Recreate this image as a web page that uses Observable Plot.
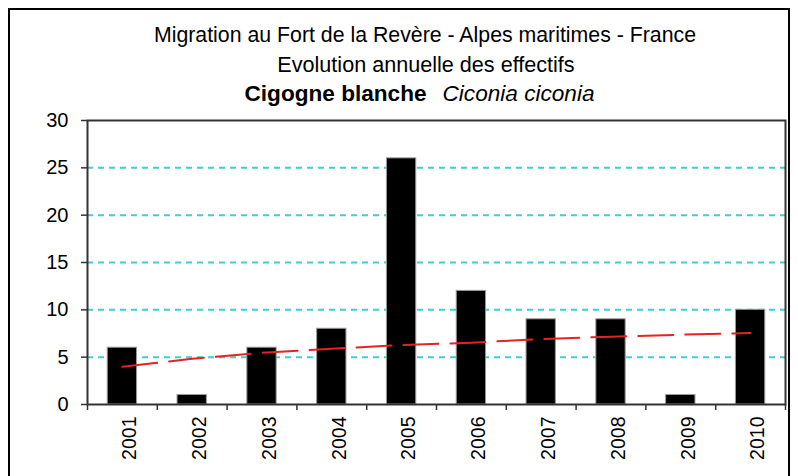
<!DOCTYPE html>
<html>
<head>
<meta charset="utf-8">
<script src="https://cdn.jsdelivr.net/npm/d3@7"></script>
<script src="https://cdn.jsdelivr.net/npm/@observablehq/plot@0.6"></script>
<style>
  html, body { margin: 0; padding: 0; background: #fff; }
  #wrap { position: relative; width: 798px; height: 476px; overflow: hidden; background: #fff;
          font-family: "Liberation Sans", Arial, sans-serif; color: #000; }
  #border { position: absolute; left: 8px; top: 8px; width: 778px; height: 600px; border: 2px solid #000; }
  .t { position: absolute; left: 0; text-align: center; white-space: pre; line-height: 1; }
  #chart { position: absolute; left: 0; top: 0; }
</style>
</head>
<body>
<div id="wrap">
  <div id="border"></div>
  <div id="chart"></div>
  <div class="t" style="top:25px;width:850px;font-size:21.3px;">Migration au Fort de la Revère - Alpes maritimes - France</div>
  <div class="t" style="top:54px;width:852px;font-size:21.6px;">Evolution annuelle des effectifs</div>
  <div class="t" style="top:83px;width:839px;font-size:22.6px;"><b>Cigogne blanche</b><span style="display:inline-block;width:16px"></span><i>Ciconia ciconia</i></div>
</div>
<script>
const years = [2001, 2002, 2003, 2004, 2005, 2006, 2007, 2008, 2009, 2010];
const counts = [6, 1, 6, 8, 26, 12, 9, 9, 1, 10];
const trend = [3.98, 4.83, 5.46, 5.89, 6.28, 6.52, 6.92, 7.16, 7.37, 7.55];
const yTicks = [0, 5, 10, 15, 20, 25, 30];
const gridValues = [5, 10, 15, 20, 25];

const data = years.map((y, i) => ({year: y, count: counts[i], trend: trend[i]}));
const boundaries = [...years.map(y => y - 0.5), years[years.length - 1] + 0.5];

const chart = Plot.plot({
  width: 798,
  height: 476,
  marginTop: 120,
  marginBottom: 72,
  marginLeft: 87,
  marginRight: 13,
  style: {background: "transparent", fontFamily: "'Liberation Sans', Arial, sans-serif", color: "#000"},
  x: {type: "linear", domain: [boundaries[0], boundaries[boundaries.length - 1]]},
  y: {domain: [0, 30]},
  marks: [
    Plot.ruleY(gridValues, {stroke: "#3fcfcf", strokeWidth: 2, strokeDasharray: "6,5"}),
    Plot.rectY(data, {x1: d => d.year - 0.21, x2: d => d.year + 0.21, y: "count", fill: "#000", stroke: "#9a9a9a", strokeWidth: 1}),
    Plot.line(data, {x: "year", y: "trend", stroke: "#e62222", strokeWidth: 2, strokeDasharray: "35,12"}),
    Plot.frame({stroke: "#333", strokeWidth: 2}),
    Plot.axisY({ticks: yTicks, tickSize: 6, tickPadding: 13, fontSize: 20, stroke: "#333", strokeWidth: 1.5, strokeOpacity: 1, label: null}),
    Plot.axisX({ticks: boundaries, tickSize: 6, tickFormat: () => "", stroke: "#333", strokeWidth: 1.5, strokeOpacity: 1, label: null}),
    Plot.axisX({ticks: years, tickSize: 0, tickPadding: 12, rotate: -90, textAnchor: "end", fontSize: 19.5, tickFormat: d => String(d), label: null})
  ]
});
document.getElementById("chart").appendChild(chart);
</script>
</body>
</html>
